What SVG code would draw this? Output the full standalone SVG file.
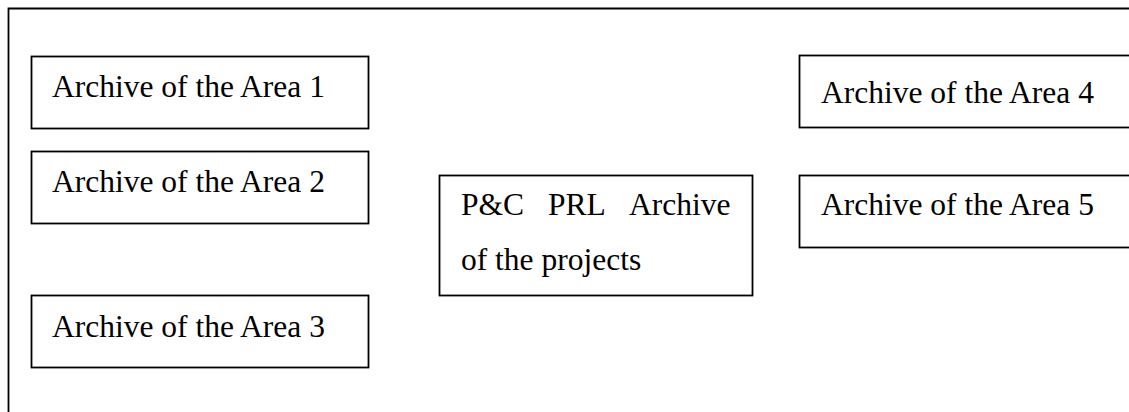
<svg xmlns="http://www.w3.org/2000/svg" width="1129" height="412" viewBox="0 0 1129 412">
<style>
.box{fill:#fff;stroke:#000;stroke-width:1.8}
.frame{fill:none;stroke:#000;stroke-width:1.8}
.t{font-family:"Liberation Serif","Times New Roman",serif;font-size:31.5px;fill:#000}
</style>
<rect width="1129" height="412" fill="#fff"/>
<g id="frame"><path class="frame" d="M8.5,412 V8.5 H1129"/></g>
<g id="connectors"></g>
<g id="area1"><rect class="box" x="31.5" y="56.5" width="337" height="72"/><text class="t" x="52" y="97">Archive of the Area 1</text></g>
<g id="area2"><rect class="box" x="31.5" y="151.5" width="337" height="72"/><text class="t" x="52" y="192">Archive of the Area 2</text></g>
<g id="area3"><rect class="box" x="31.5" y="295.5" width="337" height="72"/><text class="t" x="52" y="337">Archive of the Area 3</text></g>
<g id="central"><rect class="box" x="439.5" y="175.5" width="313" height="120"/><text class="t" y="215"><tspan x="461">P&amp;C</tspan><tspan x="548">PRL</tspan><tspan x="629">Archive</tspan></text><text class="t" x="461" y="270">of the projects</text></g>
<g id="area4"><rect class="box" x="799.5" y="55.5" width="340" height="72"/><text class="t" x="821" y="103">Archive of the Area 4</text></g>
<g id="area5"><rect class="box" x="799.5" y="175.5" width="340" height="72"/><text class="t" x="821" y="215">Archive of the Area 5</text></g>
</svg>
